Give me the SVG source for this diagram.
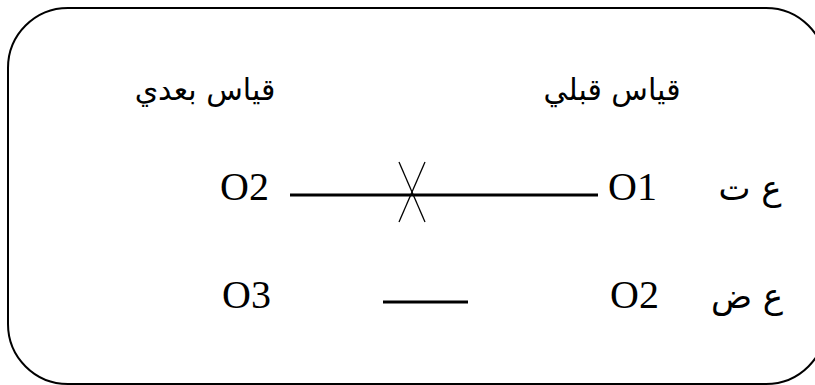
<svg xmlns="http://www.w3.org/2000/svg" width="815" height="385" viewBox="0 0 815 385">
<style>
.frame{fill:none;stroke:#000;stroke-width:2}
.ar{font-family:"DejaVu Sans","Noto Sans",sans-serif;font-size:30px;fill:#000}
.lat{font-family:"Liberation Serif","Times New Roman",serif;font-size:40px;fill:#000}
.arr{font-family:"DejaVu Serif","DejaVu Sans",serif;font-size:34px;fill:#000}
.ln{stroke:#000;stroke-width:3;fill:none}
.thin{stroke:#000;stroke-width:1.3;fill:none}
</style>
<rect class="frame" x="8" y="8" width="818" height="376" rx="60" ry="60"/>
<g id="title-after"><text class="ar" x="205" y="100" text-anchor="middle" direction="rtl">قياس بعدي</text></g>
<g id="title-before"><text class="ar" x="612" y="100" text-anchor="middle" direction="rtl">قياس قبلي</text></g>
<g id="row1">
<text class="lat" x="220" y="200">O2</text>
<text class="lat" x="608" y="200">O1</text>
<text class="arr" x="750" y="200" text-anchor="middle" direction="rtl">ع ت</text>
</g>
<g id="row2">
<text class="lat" x="222" y="308">O3</text>
<text class="lat" x="610" y="308">O2</text>
<text class="arr" x="747" y="308" text-anchor="middle" direction="rtl">ع ض</text>
</g>
<g id="connectors">
<line class="ln" x1="290" y1="195" x2="598" y2="195"/>
<line class="thin" x1="399" y1="162" x2="425" y2="222"/>
<line class="thin" x1="425" y1="162" x2="399" y2="222"/>
<line class="ln" x1="383" y1="302" x2="468" y2="302"/>
</g>
</svg>
